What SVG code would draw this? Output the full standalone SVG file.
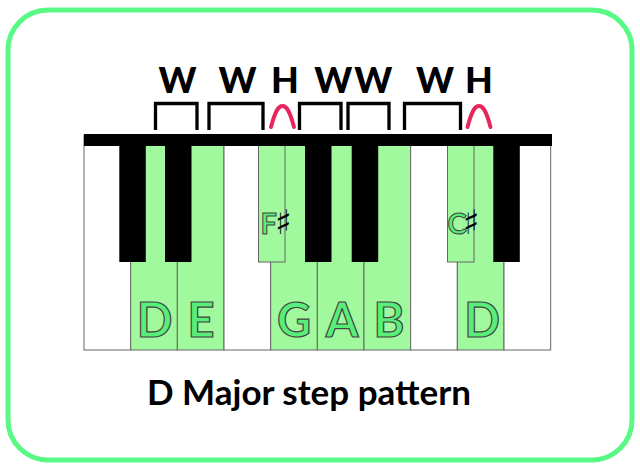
<svg xmlns="http://www.w3.org/2000/svg" width="640" height="470" viewBox="0 0 640 470">
<style>
.frame{fill:#fff;stroke:#58fa85;stroke-width:5}
.wk{fill:#fff;stroke:#666;stroke-width:1}
.wg{fill:#a0f99c;stroke:#666;stroke-width:1}
.bk{fill:#000}
.bg{fill:#a0f99c;stroke:#666;stroke-width:1}
.note{font-family:Lato,"Liberation Sans",sans-serif;font-weight:bold;fill:#58ef78;stroke:#444;stroke-width:1.2;text-anchor:middle}
.sn{font-family:Lato,"Liberation Sans",sans-serif;font-weight:bold;fill:#58ef78;stroke:#444;stroke-width:1;font-size:29px}
.sharp{font-family:"DejaVu Sans",sans-serif;fill:#000;stroke:none;font-size:34px}
.step{font-family:Lato,"Liberation Sans",sans-serif;font-weight:900;font-size:36px;fill:#000;text-anchor:middle}
.br{fill:none;stroke:#000;stroke-width:3.3}
.half{fill:none;stroke:#e8265e;stroke-width:4;stroke-linecap:round}
.title{font-family:Lato,"Liberation Sans",sans-serif;font-weight:bold;font-size:35px;fill:#000;text-anchor:middle}
</style>
<rect class="frame" x="8" y="10" width="624" height="450" rx="40" ry="40"/>
<g id="keyboard">
<rect class="wk" x="84" y="135" width="46.67" height="215"/>
<rect class="wg" x="130.67" y="135" width="46.67" height="215"/>
<rect class="wg" x="177.33" y="135" width="46.67" height="215"/>
<rect class="wk" x="224" y="135" width="46.67" height="215"/>
<rect class="wg" x="270.67" y="135" width="46.67" height="215"/>
<rect class="wg" x="317.33" y="135" width="46.67" height="215"/>
<rect class="wg" x="364" y="135" width="46.67" height="215"/>
<rect class="wk" x="410.67" y="135" width="46.67" height="215"/>
<rect class="wg" x="457.33" y="135" width="46.67" height="215"/>
<rect class="wk" x="504" y="135" width="46.67" height="215"/>
<rect class="bk" x="119.3" y="135" width="26.5" height="127"/>
<rect class="bk" x="165" y="135" width="26.5" height="127"/>
<rect class="bg" x="258.5" y="135" width="26.5" height="127"/>
<rect class="bk" x="305" y="135" width="26.5" height="127"/>
<rect class="bk" x="351.7" y="135" width="26.5" height="127"/>
<rect class="bg" x="447.5" y="135" width="26.5" height="127"/>
<rect class="bk" x="493.3" y="135" width="26.5" height="127"/>
<rect class="bk" x="84" y="134" width="468" height="12"/>
</g>
<g id="labels">
<text class="note" x="154.5" y="337" font-size="47">D</text>
<text class="note" x="201" y="337" font-size="47">E</text>
<text class="note" x="294" y="337" font-size="47">G</text>
<text class="note" x="342" y="337" font-size="47">A</text>
<text class="note" x="389" y="337" font-size="47">B</text>
<text class="note" x="482" y="337" font-size="47">D</text>
<text x="260.5" y="234"><tspan class="sn">F</tspan><tspan class="sharp" dx="-2" dy="0">♯</tspan></text>
<text x="447.5" y="234"><tspan class="sn">C</tspan><tspan class="sharp" dx="-4" dy="0">♯</tspan></text>
</g>
<g id="steps">
<text class="step" x="177.5" y="93">W</text>
<text class="step" x="237.5" y="93">W</text>
<text class="step" x="285" y="93">H</text>
<text class="step" x="333.3" y="93">W</text>
<text class="step" x="373.3" y="93">W</text>
<text class="step" x="435" y="93">W</text>
<text class="step" x="479" y="93">H</text>
</g>
<g id="connectors">
<path class="br" d="M155.5 130 V103.5 H197 V130"/>
<path class="br" d="M209 130 V103.5 H263 V130"/>
<path class="br" d="M299.5 130 V103.5 H341 V130"/>
<path class="br" d="M348 130 V103.5 H389 V130"/>
<path class="br" d="M404.5 130 V103.5 H460.5 V130"/>
<path class="half" d="M271 127 C275 112 278 106 282.5 106 C287 106 290 112 294 127"/>
<path class="half" d="M467.5 127 C471.5 112 474.5 106 479 106 C483.5 106 486.5 112 490.5 127"/>
</g>
<text class="title" x="309" y="405">D Major step pattern</text>
</svg>
